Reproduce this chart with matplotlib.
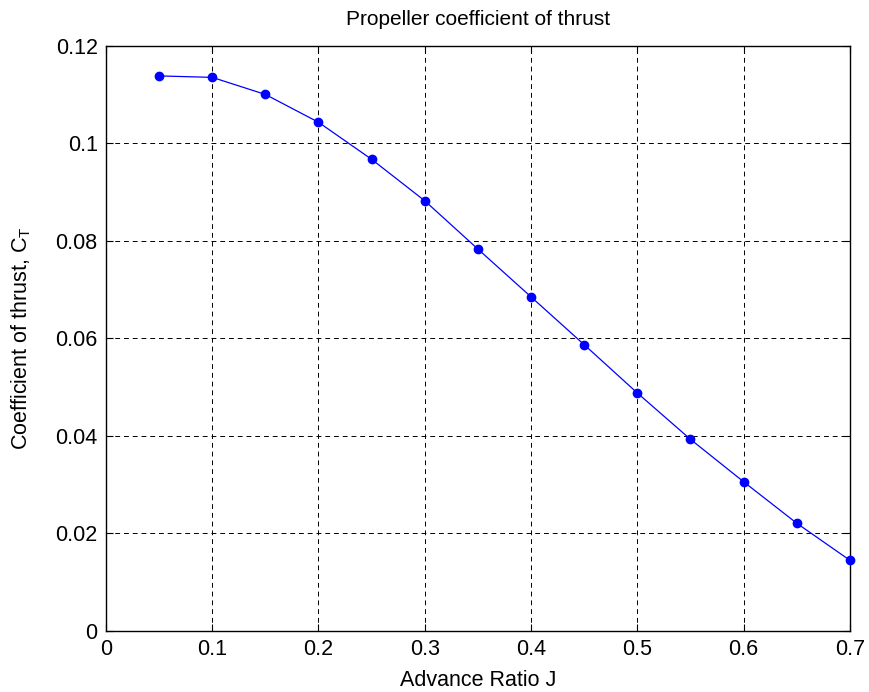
import matplotlib
matplotlib.use("Agg")
import matplotlib.pyplot as plt

J = [0.05, 0.10, 0.15, 0.20, 0.25, 0.30, 0.35, 0.40, 0.45, 0.50, 0.55, 0.60, 0.65, 0.70]
CT = [0.1138, 0.1135, 0.1100, 0.1043, 0.0967, 0.0882, 0.0783, 0.0685, 0.0587,
      0.0488, 0.0393, 0.0306, 0.0221, 0.0145]
xticks = [0, 0.1, 0.2, 0.3, 0.4, 0.5, 0.6, 0.7]
xticklabels = ["0", "0.1", "0.2", "0.3", "0.4", "0.5", "0.6", "0.7"]
yticks = [0, 0.02, 0.04, 0.06, 0.08, 0.1, 0.12]
yticklabels = ["0", "0.02", "0.04", "0.06", "0.08", "0.1", "0.12"]

plt.rcParams['font.family'] = ['Liberation Sans', 'DejaVu Sans']
FS = 15.5

fig = plt.figure(figsize=(8.7, 6.92), dpi=100)
ax = fig.add_axes([0.1218, 0.0882, 0.855, 0.8458])

ax.plot(J, CT, color='#0000ff', linewidth=0.9, marker='o', markersize=6, zorder=3, clip_on=False)

ax.set_xlim(0, 0.7)
ax.set_ylim(0, 0.12)
ax.set_xticks(xticks)
ax.set_xticklabels(xticklabels)
ax.set_yticks(yticks)
ax.set_yticklabels(yticklabels)
ax.tick_params(direction='in', top=True, right=True, labelsize=FS, length=5, width=0.8, pad=6)
ax.grid(True, color='black', linestyle=(0, (5, 4)), linewidth=0.7)
for s in ax.spines.values():
    s.set_linewidth(1.0)

ax.set_title('Propeller coefficient of thrust', fontsize=15, pad=15)
ax.set_xlabel('Advance Ratio J', fontsize=FS, labelpad=7)
ax.set_ylabel('Coefficient of thrust, C$_\\mathregular{T}$', fontsize=FS, labelpad=16)

fig.savefig('out.png', dpi=100)
